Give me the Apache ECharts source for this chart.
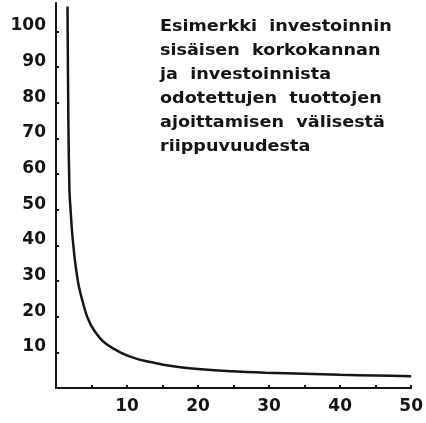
<!DOCTYPE html>
<html>
<head>
<meta charset="utf-8">
<script src="https://cdn.jsdelivr.net/npm/echarts@6/dist/echarts.min.js"></script>
<style>
  html, body { margin: 0; padding: 0; background: #fff; }
</style>
</head>
<body>
<div id="chart1" style="width:426px;height:423px"></div>
<script>
// values
var xValues = [1.62, 1.74, 1.89, 2.05, 2.24, 2.44, 2.66, 2.9, 3.24, 3.7, 4.4, 5.35, 6.9, 9.25, 11.5, 13.5, 15.1, 17.5, 20, 24.6, 29.5, 35, 40, 45, 50];
var yValues = [107, 75, 55.6, 50, 44.4, 40, 35.9, 32.3, 28.3, 24.6, 19.9, 16.2, 12.6, 9.8, 8.1, 7.2, 6.5, 5.8, 5.3, 4.7, 4.3, 4.0, 3.7, 3.5, 3.3];
var xTickLabels = [10, 20, 30, 40, 50];
var xTicks = [5, 10, 15, 20, 25, 30, 35, 40, 45, 50];
var yTickLabels = [10, 20, 30, 40, 50, 60, 70, 80, 90, 100];
var noteLines = [
  'Esimerkki  investoinnin',
  'sisäisen  korkokannan',
  'ja  investoinnista',
  'odotettujen  tuottojen',
  'ajoittamisen  välisestä',
  'riippuvuudesta'
];

var curve = [];
for (var i = 0; i < xValues.length; i++) {
  curve.push([xValues[i], yValues[i]]);
}

var ink = '#151515';
var labelFont = {
  color: ink,
  fontFamily: 'DejaVu Sans',
  fontWeight: 'bold',
  fontSize: 17
};

var myChart1 = echarts.init(document.getElementById('chart1'));
var option = {
  backgroundColor: '#fff',
  animation: false,
  grid: {
    left: 56,
    right: 14,
    top: 3,
    bottom: 35
  },
  xAxis: {
    type: 'value',
    min: 0,
    max: 50,
    interval: 5,
    splitLine: { show: false },
    axisLine: { lineStyle: { color: ink, width: 2 } },
    axisTick: {
      inside: true,
      length: 3,
      customValues: xTicks,
      lineStyle: { color: ink, width: 2 }
    },
    axisLabel: Object.assign({
      margin: 10,
      customValues: xTickLabels
    }, labelFont)
  },
  yAxis: {
    type: 'value',
    min: 0,
    max: 108,
    interval: 10,
    splitLine: { show: false },
    axisLine: { show: true, lineStyle: { color: ink, width: 2 } },
    axisTick: {
      show: true,
      inside: true,
      length: 3,
      customValues: yTickLabels,
      lineStyle: { color: ink, width: 2 }
    },
    axisLabel: Object.assign({
      margin: 10,
      verticalAlign: 'bottom',
      lineHeight: 11,
      customValues: yTickLabels
    }, labelFont)
  },
  graphic: [
    {
      type: 'text',
      x: 160,
      y: 15,
      scaleX: 1.1,
      style: {
        text: noteLines.join('\n'),
        fill: ink,
        font: 'bold 16px "DejaVu Sans"',
        lineHeight: 24
      }
    }
  ],
  series: [
    {
      type: 'line',
      data: curve,
      smooth: 0.3,
      showSymbol: false,
      clip: true,
      lineStyle: { color: ink, width: 2.5 }
    }
  ]
};
myChart1.setOption(option);
</script>
</body>
</html>
